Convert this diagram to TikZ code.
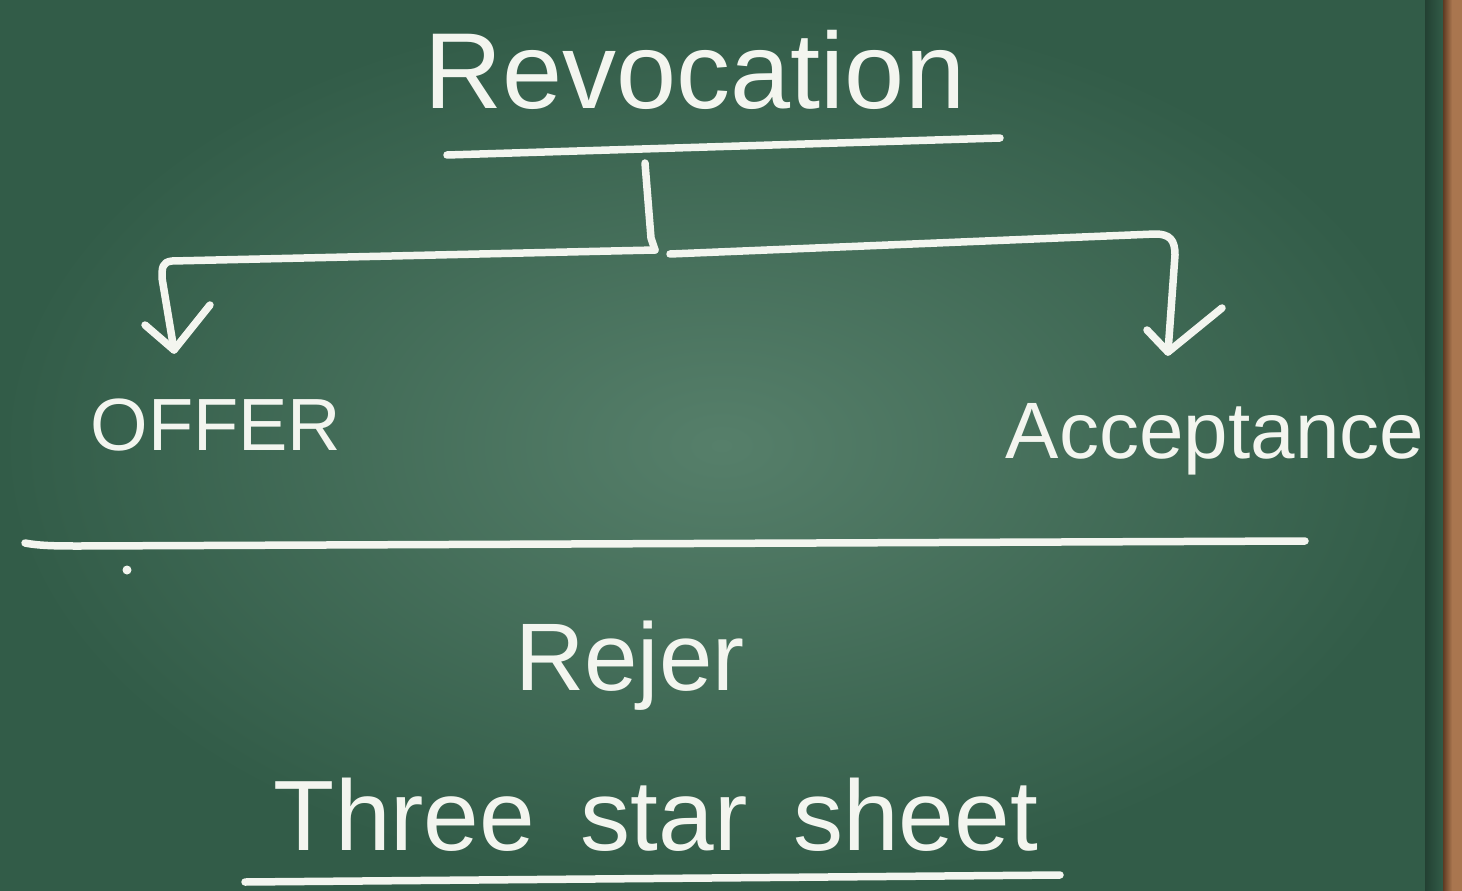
\documentclass[tikz,border=0pt]{standalone}
\usepackage{fontspec}
\setmainfont{Liberation Sans}
\definecolor{boardin}{HTML}{567F6A}
\definecolor{boardout}{HTML}{325C48}
\definecolor{chalk}{HTML}{F3F5EF}
\definecolor{wood}{HTML}{A9764F}
\definecolor{wooddark}{HTML}{5E3A22}
\tikzset{
  chalkline/.style={draw=chalk, line width=7.5pt, line cap=round, line join=round},
  chalktext/.style={text=chalk, inner sep=0pt, anchor=base},
}
\begin{document}
\begin{tikzpicture}[x=1pt,y=-1pt]
\useasboundingbox (0,0) rectangle (1462,891);
% board
\shade[inner color=boardin, outer color=boardout] (0,0) rectangle (1443,891);
\shade[left color=boardout!70!black, right color=boardout] (1425,0) rectangle (1443,891);
\shade[left color=wooddark, right color=wood] (1443,0) rectangle (1452,891);
\fill[wood] (1452,0) rectangle (1462,891);

% texts
\node[chalktext, font=\fontsize{108}{110}\selectfont] (rev) at (695,108) {Revocation};
\node[chalktext, font=\fontsize{74}{76}\selectfont] (offer) at (216,450) {OFFER};
\node[chalktext, font=\fontsize{80}{82}\selectfont] (acc) at (1215,458) {Acceptance};
\node[chalktext, font=\fontsize{96}{98}\selectfont] (rej) at (630,690) {Rejer};
\node[chalktext, font=\fontsize{100}{102}\selectfont] (three) at (656,850) {Three\hspace{18pt} star\hspace{18pt} sheet};

% coordinates
\coordinate (ulL) at (447,155);
\coordinate (ulR) at (1000,138);
\coordinate (stemtop) at (645,163);
\coordinate (hub) at (655,250);
\coordinate (lend) at (174,350);
\coordinate (rend) at (1168,352);

% underline of Revocation
\draw[chalkline] (ulL) -- (ulR);
% stem
\draw[chalkline] (stemtop) -- (651,238) -- (hub);
% left branch
\draw[chalkline] (hub) -- (172,261) .. controls (162,262) and (162,268) .. (162,278) -- (lend);
\draw[chalkline] (145,325) -- (lend) -- (210,305);
% right branch
\draw[chalkline] (670,254) -- (1155,234) .. controls (1170,234) and (1175,240) .. (1175,255) -- (rend);
\draw[chalkline] (1147,330) -- (rend) -- (1222,308);

% separator
\coordinate (sepL) at (25,543);
\coordinate (sepR) at (1305,541);
\draw[chalkline] (sepL) .. controls (40,546) and (60,546) .. (80,546) -- (sepR);
\fill[chalk] (127,570) circle (4.5pt);

% underline of bottom text
\coordinate (bL) at (245,882);
\coordinate (bR) at (1060,875);
\draw[chalkline] (bL) -- (bR);
\end{tikzpicture}
\end{document}
